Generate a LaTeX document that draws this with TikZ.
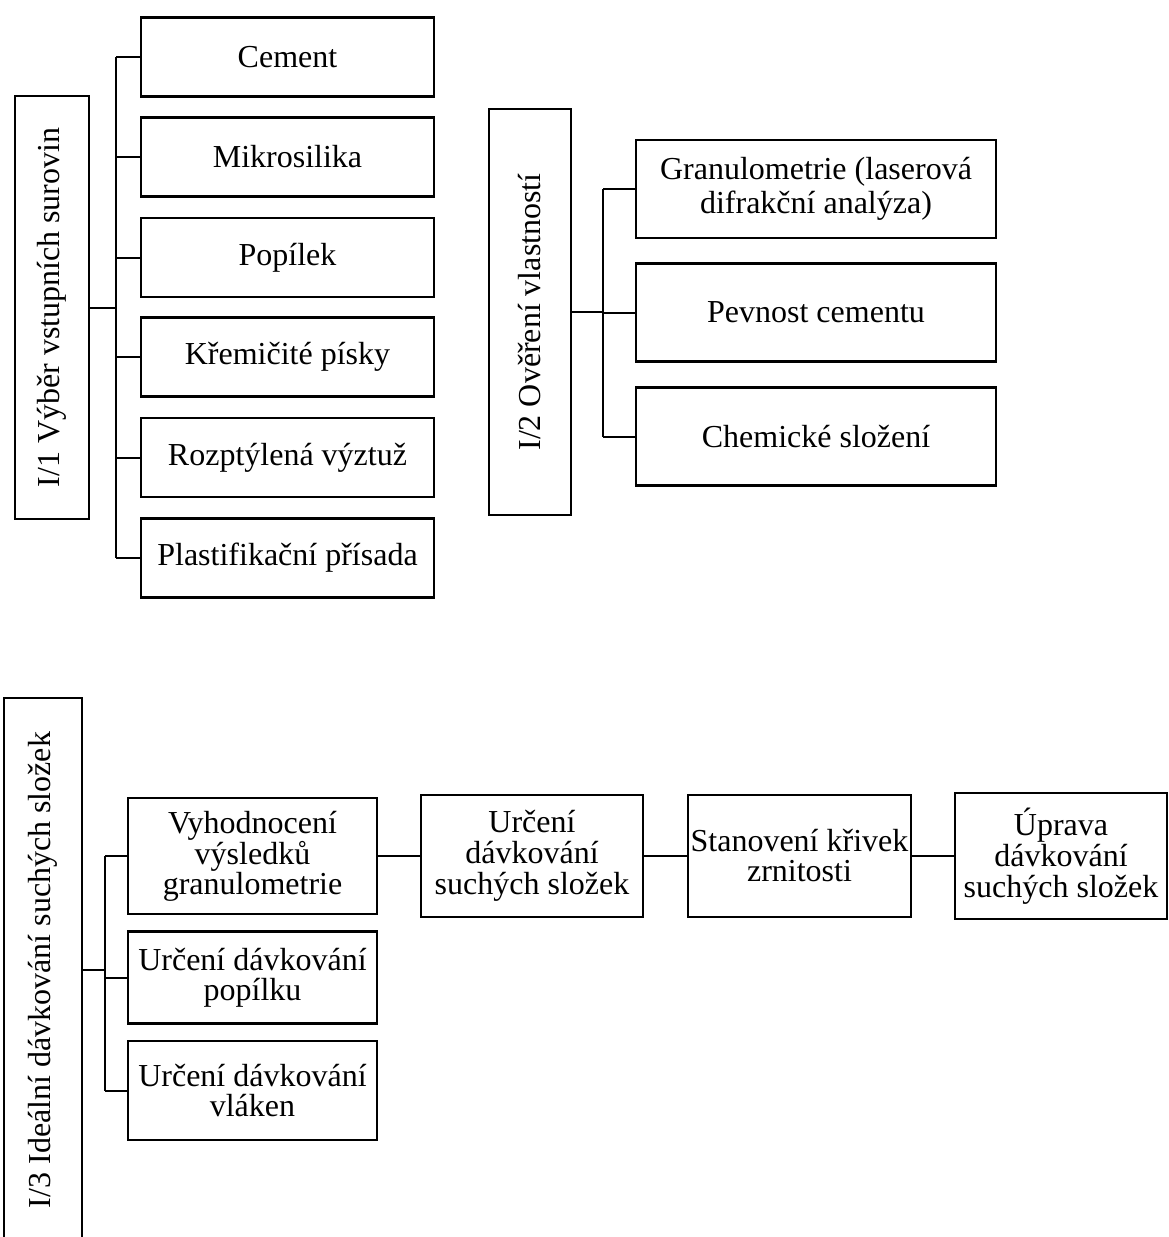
\documentclass[tikz,border=0pt]{standalone}
\usepackage{fontspec}
\setmainfont{Liberation Serif}
\tikzstyle{box}=[draw,line width=2.4pt,inner sep=0pt,align=center,font=\fontsize{32}{32}\selectfont]
\tikzstyle{vbox}=[box,rotate=90]
\tikzstyle{link}=[line width=2pt]

\begin{document}
\begin{tikzpicture}[x=1pt,y=-1pt]
	\useasboundingbox (0,0) rectangle (1169,1237);
	\clip (0,0) rectangle (1169,1237);

	% I/1
	\node[vbox,minimum width=423pt,minimum height=74pt] (vyber) at (52,307.5) {I/1 Výběr vstupních surovin};
	\coordinate (bus1) at (116,307.5);
		\foreach \n / \y / \t in {cement/57/Cement,mikro/157/Mikrosilika,popilek/257.5/Popílek,pisky/357/Křemičité písky,vyztuz/457.5/Rozptýlená výztuž,plast/558/Plastifikační přísada}{
			\node[box,minimum width=293pt,minimum height=79pt] (\n) at (287.5,\y) {\t};
			\draw[link] (bus1 |- \n.west) -- (\n.west);}
	\draw[link] (vyber.south) -- (bus1);
	\draw[link] (bus1 |- cement.west) -- (bus1 |- plast.west);

	% I/2
	\node[vbox,minimum width=406pt,minimum height=82pt] (overeni) at (530,312) {I/2 Ověření vlastností};
	\coordinate (bus2) at (603,312);
		\foreach \n / \y / \t in {granul/189/{Granulometrie (laserová\\difrakční analýza)},pevnost/312.5/Pevnost cementu,chem/436.5/Chemické složení}{
			\node[box,minimum width=360pt,minimum height=98pt,font=\fontsize{32}{34}\selectfont] (\n) at (816,\y) {\t};
			\draw[link] (bus2 |- \n.west) -- (\n.west);}
	\draw[link] (overeni.south) -- (bus2);
	\draw[link] (bus2 |- granul.west) -- (bus2 |- chem.west);

	% I/3
	\node[vbox,minimum width=544pt,minimum height=78pt] (idealni) at (43,970) {I/3 Ideální dávkování suchých složek};
	\coordinate (bus3) at (105,970);
		\foreach \n / \y / \h / \t in {vyhod/856/116/{Vyhodnocení\\výsledků\\granulometrie},dpop/977.5/92/{Určení dávkování\\popílku},dvl/1090.5/99/{Určení dávkování\\vláken}}{
			\node[box,minimum width=249pt,minimum height=\h pt,font=\fontsize{32}{30}\selectfont] (\n) at (252.5,\y) {\t};
			\draw[link] (bus3 |- \n.west) -- (\n.west);}
	\draw[link] (idealni.south) -- (bus3);
	\draw[link] (bus3 |- vyhod.west) -- (bus3 |- dvl.west);

		\node[box,minimum width=222pt,minimum height=122pt,font=\fontsize{32}{31}\selectfont] (urceni) at (532,856) {Určení\\dávkování\\suchých složek};
		\node[box,minimum width=223pt,minimum height=122pt,font=\fontsize{32}{30}\selectfont] (krivky) at (799.5,856) {Stanovení křivek\\zrnitosti};
		\node[box,minimum width=212pt,minimum height=126pt,font=\fontsize{32}{31}\selectfont] (uprava) at (1061,856) {Úprava\\dávkování\\suchých složek};
	\draw[link] (vyhod.east) -- (urceni.west);
	\draw[link] (urceni.east) -- (krivky.west);
	\draw[link] (krivky.east) -- (uprava.west);
\end{tikzpicture}
\end{document}
